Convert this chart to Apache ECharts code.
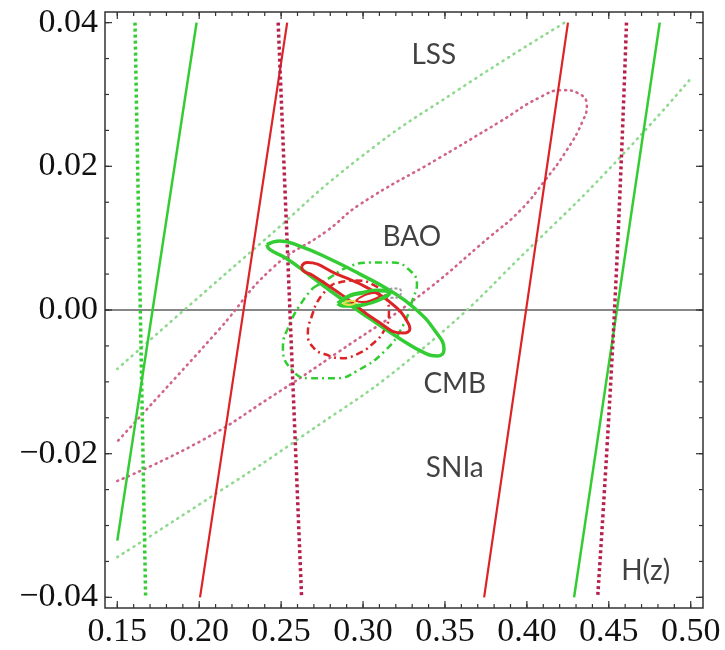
<!DOCTYPE html>
<html>
<head>
<meta charset="utf-8">
<script src="https://cdn.jsdelivr.net/npm/echarts@6/dist/echarts.min.js"></script>
<style>
  html, body { margin: 0; padding: 0; background: #fff; }
  #chart { width: 725px; height: 650px; }
</style>
</head>
<body>
<div id="chart"></div>
<script>
// Axis extents and tick values
const xRange = [0.1425, 0.5075];
const yRange = [-0.04148, 0.04148];
const xTickLabels = [0.15, 0.20, 0.25, 0.30, 0.35, 0.40, 0.45, 0.50];
const yTickLabels = [-0.04, -0.02, 0.00, 0.02, 0.04];

// SNIa constraints (solid straight bands)
const sniaGreenLow  = [[0.1500, -0.0321], [0.1984, 0.0400]];
const sniaGreenHigh = [[0.4288, -0.0400], [0.4811, 0.0400]];
const sniaRedLow    = [[0.2005, -0.0400], [0.2537, 0.0400]];
const sniaRedHigh   = [[0.3739, -0.0400], [0.4251, 0.0400]];

// H(z) constraints (dashed bands)
const hzGreenLow = [[0.1608, 0.0400], [0.1673, -0.0400]];
const hzRedLow   = [[0.2482, 0.0400], [0.2625, -0.0400]];
const hzRedHigh  = [[0.4608, 0.0400], [0.4535, 0.0000], [0.4432, -0.0400]];

// LSS contours (dotted)
const lssGreenUpper = [[0.1500, -0.0082], [0.1883, -0.0005], [0.2371, 0.0092], [0.2981, 0.0212],
                       [0.3591, 0.0308], [0.4231, 0.0400]];
const lssGreenLower = [[0.1500, -0.0344], [0.2005, -0.0270], [0.2615, -0.0178], [0.3347, -0.0057],
                       [0.4079, 0.0100], [0.4567, 0.0212], [0.5000, 0.0322]];
const lssRed = [[0.1500, -0.0238], [0.2005, -0.0183], [0.2432, -0.0122], [0.2859, -0.0057],
                [0.3328, 0.0017], [0.3774, 0.0102], [0.3957, 0.0138], [0.4109, 0.0180],
                [0.4242, 0.0222], [0.4341, 0.0263], [0.4366, 0.0285], [0.4311, 0.0302],
                [0.4219, 0.0306], [0.4079, 0.0296], [0.3835, 0.0262], [0.3468, 0.0212],
                [0.2981, 0.0147], [0.2779, 0.0110], [0.2450, 0.0059], [0.2114, -0.0029],
                [0.1500, -0.0183]];

// BAO contours (solid ellipses)
const baoGreen = [[0.2413, 0.0091], [0.2493, 0.0096], [0.2615, 0.0089], [0.2798, 0.0071],
                  [0.2981, 0.0050], [0.3164, 0.0027], [0.3317, 0.0002], [0.3439, -0.0029],
                  [0.3494, -0.0055], [0.3457, -0.0064], [0.3378, -0.0060], [0.3225, -0.0040],
                  [0.3042, -0.0012], [0.2859, 0.0017], [0.2676, 0.0048], [0.2523, 0.0073],
                  [0.2432, 0.0084], [0.2413, 0.0091]];
const baoRed = [[0.2625, 0.0061], [0.2657, 0.0066], [0.2840, 0.0050], [0.3042, 0.0029],
                [0.3206, 0.0003], [0.3267, -0.0015], [0.3286, -0.0026], [0.3243, -0.0032],
                [0.3084, -0.0015], [0.2877, 0.0020], [0.2694, 0.0048], [0.2633, 0.0055],
                [0.2625, 0.0061]];

// CMB contours (dash-dot)
const cmbGreen = [[0.2697, 0.0031], [0.2798, 0.0045], [0.2900, 0.0059], [0.3042, 0.0066],
                  [0.3182, 0.0066], [0.3286, 0.0055], [0.3329, 0.0036], [0.3305, 0.0016],
                  [0.3243, -0.0022], [0.3133, -0.0057], [0.2962, -0.0085], [0.2840, -0.0095],
                  [0.2676, -0.0095], [0.2572, -0.0085], [0.2511, -0.0053], [0.2554, -0.0019],
                  [0.2633, 0.0013], [0.2697, 0.0031]];
const cmbRed = [[0.2816, 0.0036], [0.2737, 0.0017], [0.2688, -0.0008], [0.2663, -0.0033],
                [0.2700, -0.0053], [0.2773, -0.0062], [0.2871, -0.0067], [0.2968, -0.0061],
                [0.3054, -0.0048], [0.3127, -0.0029], [0.3158, -0.0004], [0.3139, 0.0018],
                [0.3072, 0.0034], [0.2950, 0.0041], [0.2816, 0.0036]];

// Combined constraints (small central contours)
const jointGreen = [[0.2846, 0.0009], [0.2920, 0.0020], [0.2999, 0.0024], [0.3090, 0.0027],
                    [0.3164, 0.0025], [0.3133, 0.0018], [0.3042, 0.0010], [0.2950, 0.0006],
                    [0.2877, 0.0006], [0.2846, 0.0009]];
const jointRed = [[0.2956, 0.0013], [0.3005, 0.0020], [0.3078, 0.0024], [0.3103, 0.0021],
                  [0.3054, 0.0014], [0.2993, 0.0011], [0.2956, 0.0013]];
const jointYellow = [[0.2877, 0.0009], [0.2920, 0.0013], [0.2956, 0.0011], [0.2920, 0.0007],
                     [0.2877, 0.0009]];
const jointGray = [[0.3139, 0.0024], [0.3182, 0.0030], [0.3231, 0.0027], [0.3219, 0.0018],
                   [0.3170, 0.0017], [0.3139, 0.0024]];

// Probe labels
const probeNames = ['LSS', 'BAO', 'CMB', 'SNIa', 'H(z)'];
const probeX = [0.3432, 0.3298, 0.3560, 0.3560, 0.4725];
const probeY = [0.0355, 0.0102, -0.0103, -0.0220, -0.0363];

// Minor tick positions (every 0.01 in x, every 0.005 in y)
const xMinor = [];
for (let i = 15; i <= 50; i++) xMinor.push(+(i / 100).toFixed(2));
const yMinor = [];
for (let i = -8; i <= 8; i++) yMinor.push(+(i * 0.005).toFixed(3));

const GREEN = '#33cc33';
const RED = '#dc2326';
const HZ_RED = '#b8204c';
const LSS_RED = '#d0648c';
const LSS_GREEN = '#8fd98f';
const FRAME = '#333';

const GRID = { left: 105, right: 22, top: 12, bottom: 42 };
const CHART_W = 725, CHART_H = 650;

function curve(data, color, width, type, smooth, cap) {
  return {
    type: 'line',
    data: data,
    symbol: 'none',
    showSymbol: false,
    smooth: smooth,
    clip: true,
    silent: true,
    lineStyle: { color: color, width: width, type: type, cap: cap || 'butt' }
  };
}

const fmt = v => {
  const s = Math.abs(v).toFixed(2);
  return v < -1e-9 ? '\u2212' + s : s;
};

function plainAxis(range) {
  return {
    type: 'value', min: range[0], max: range[1],
    axisLine: { show: false }, axisTick: { show: false },
    axisLabel: { show: false }, splitLine: { show: false }
  };
}

// Inward tick marks on all four sides: data units per screen pixel from the grid size
const xPerPx = (xRange[1] - xRange[0]) / (CHART_W - GRID.left - GRID.right);
const yPerPx = (yRange[1] - yRange[0]) / (CHART_H - GRID.top - GRID.bottom);
function tickSeries(points) {
  return {
    type: 'line', data: points, symbol: 'none', showSymbol: false, silent: true,
    clip: false, z: 20, lineStyle: { color: FRAME, width: 1.2 }
  };
}
const tickSeriesList = [];
xTickLabels.map(v => [v, 7]).concat(xMinor.map(v => [v, 4])).forEach(function (t) {
  const d = t[1] * yPerPx;
  tickSeriesList.push(tickSeries([[t[0], yRange[0]], [t[0], yRange[0] + d]]));
  tickSeriesList.push(tickSeries([[t[0], yRange[1]], [t[0], yRange[1] - d]]));
});
yTickLabels.map(v => [v, 7]).concat(yMinor.map(v => [v, 4])).forEach(function (t) {
  const d = t[1] * xPerPx;
  tickSeriesList.push(tickSeries([[xRange[0], t[0]], [xRange[0] + d, t[0]]]));
  tickSeriesList.push(tickSeries([[xRange[1], t[0]], [xRange[1] - d, t[0]]]));
});

const option = {
  animation: false,
  backgroundColor: '#fff',
  grid: Object.assign({ show: true, borderColor: FRAME, borderWidth: 1.5,
                        backgroundColor: 'transparent' }, GRID),
  xAxis: plainAxis(xRange),
  yAxis: plainAxis(yRange),
  series: [
    // horizontal reference line at zero across the whole frame
    curve([[xRange[0], 0], [xRange[1], 0]], '#111', 1.2, 'solid', false),

    curve(lssGreenUpper, LSS_GREEN, 2.6, [1, 5.5], true, 'round'),
    curve(lssGreenLower, LSS_GREEN, 2.6, [1, 5.5], true, 'round'),
    curve(lssRed, LSS_RED, 2.6, [1, 5], true, 'round'),

    curve(cmbGreen, GREEN, 2.5, [7, 4, 2, 4], true),
    curve(cmbRed, RED, 2.5, [7, 4, 2, 4], true),

    curve(sniaGreenLow, GREEN, 2.5, 'solid', false),
    curve(sniaGreenHigh, GREEN, 2.5, 'solid', false),
    curve(sniaRedLow, RED, 2.2, 'solid', false),
    curve(sniaRedHigh, RED, 2.2, 'solid', false),

    curve(hzGreenLow, GREEN, 3.5, [3, 3], false),
    curve(hzRedLow, HZ_RED, 3.5, [3, 3], false),
    curve(hzRedHigh, HZ_RED, 3.5, [3, 3], true),

    curve(baoGreen, GREEN, 3.5, 'solid', true),
    curve(baoRed, RED, 3, 'solid', true),

    curve(jointGray, '#9a9a9a', 2, [3, 2], true),
    curve(jointGreen, GREEN, 4, 'solid', true),
    curve(jointYellow, '#e6e04a', 2, 'solid', true),
    curve(jointRed, RED, 2, 'solid', true),

    {
      type: 'scatter',
      silent: true,
      symbolSize: 1,
      itemStyle: { color: 'rgba(0,0,0,0)' },
      data: probeNames.map((n, i) => ({ name: n, value: [probeX[i], probeY[i]] })),
      label: {
        show: true, position: 'inside', formatter: '{b}',
        fontFamily: 'Lato', fontSize: 28, color: '#111'
      },
      z: 10
    }
  ].concat(tickSeriesList)
};

const chart = echarts.init(document.getElementById('chart'), null, { renderer: 'canvas' });
try { chart.setOption(option); } catch (e) { /* keep going so the tick labels still draw */ }

// Tick labels, placed through the grid's scales
function label(text, x, y, align, vAlign) {
  return { type: 'text', z: 100, x: x, y: y,
           style: { text: text, fill: '#111', fontSize: 34, fontFamily: 'Liberation Serif',
                    align: align, verticalAlign: vAlign } };
}
function tickLabels() {
  const els = [];
  const toPx = p => chart.convertToPixel({ xAxisIndex: 0, yAxisIndex: 0 }, p);
  xTickLabels.forEach(function (v) {
    const b = toPx([v, yRange[0]]);
    els.push(label(fmt(v), b[0], b[1] + 7, 'center', 'top'));
  });
  yTickLabels.forEach(function (v) {
    const l = toPx([xRange[0], v]);
    els.push(label(fmt(v), l[0] - 7, l[1], 'right', 'middle'));
  });
  return els;
}
chart.setOption({ graphic: tickLabels() });
</script>
</body>
</html>
